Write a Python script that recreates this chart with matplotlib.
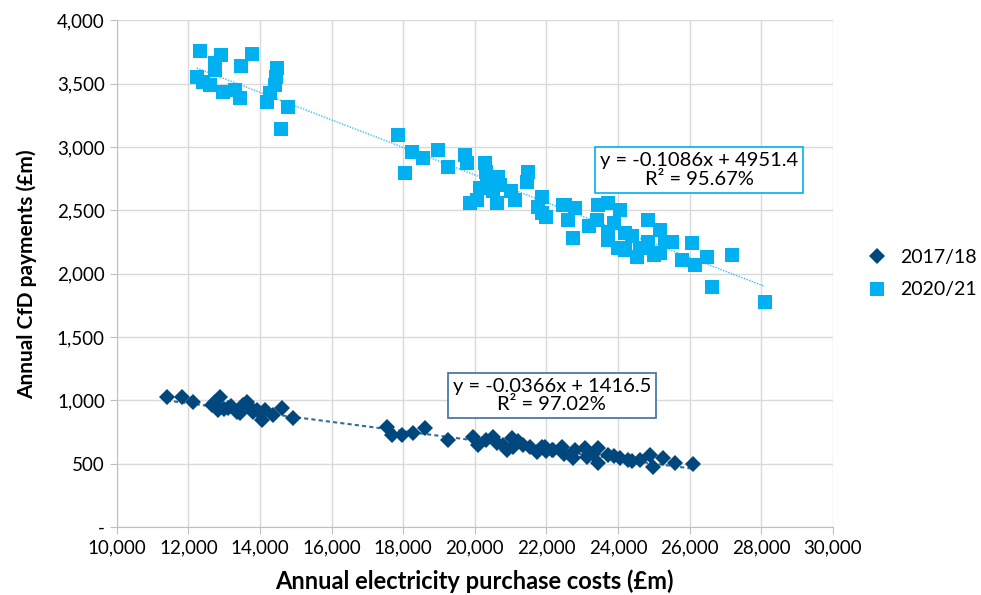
# Scatter of annual CfD payments vs electricity purchase costs, with trend lines

import numpy as np
import matplotlib.pyplot as plt
from matplotlib.ticker import FuncFormatter

plt.rcParams['font.family'] = ['Lato', 'DejaVu Sans']

# 2017/18 points (purchase costs, CfD payments), £m
x_1718 = [11396, 11815, 12123, 12653, 12877, 12821, 13100, 13351, 13519, 13715,
          13435, 13910, 14050, 14134, 14357, 14608, 14916,
          12750, 13200, 13650, 13000, 13800,
          17541, 17681, 17960, 18267, 18602, 19245, 19943, 20083, 20502, 20614,
          21033, 21061, 20893, 21535, 21731, 21954, 22178,
          20300, 20800, 21200, 22000, 22500, 23300, 23900, 24400,
          21340, 21871, 22150, 22429, 22792, 23072, 23435, 22737, 23128, 23435,
          23714, 24050, 24273, 24608, 24887, 24971, 25250, 25585, 26088]
y_1718 = [1026, 1026, 986, 963, 1026, 923, 939, 907, 963, 947,
          900, 923, 844, 923, 884, 939, 860,
          990, 960, 990, 930, 910,
          789, 726, 726, 742, 781, 686, 710, 647, 710, 663,
          702, 631, 608, 631, 592, 631, 608,
          690, 650, 680, 600, 580, 580, 560, 520,
          647, 631, 608, 631, 608, 623, 623, 544, 552, 505,
          568, 544, 529, 529, 568, 473, 544, 505, 500]

# 2020/21 points
x_2021 = [12318, 12905, 13771, 13463, 12737, 12737, 12234, 12402, 12597, 12960,
          13296, 13435, 14469, 14441, 14413, 14273, 14190, 14776, 14581,
          17849, 18239, 18044, 18547, 18966, 19245, 19720, 19776, 20279, 20335,
          20642, 20139, 19860, 20055, 20614, 21117, 21480, 21452, 21871, 21759,
          21871, 22457, 22597,
          20500, 20700, 20300, 21000, 22000,
          22513, 22792, 22737, 23435, 23714, 24050, 23407, 23714, 23714, 24189,
          24189, 24524, 24831, 25166, 24831, 25166, 25501, 25780, 26060, 26144,
          26479, 27177, 26619, 28098,
          23200, 23900, 24400, 24600, 24000, 25000, 25300]
y_2021 = [3756, 3724, 3732, 3637, 3661, 3606, 3550, 3511, 3487, 3432,
          3448, 3385, 3621, 3550, 3487, 3424, 3353, 3314, 3140,
          3093, 2959, 2793, 2911, 2975, 2840, 2935, 2872, 2872, 2754,
          2762, 2675, 2556, 2580, 2556, 2580, 2801, 2722, 2604, 2525,
          2477, 2541, 2422,
          2650, 2700, 2800, 2650, 2450,
          2541, 2517, 2280, 2541, 2556, 2501, 2422, 2327, 2264, 2320,
          2185, 2130, 2422, 2343, 2248, 2162, 2248, 2107, 2241, 2067,
          2130, 2146, 1894, 1775,
          2380, 2400, 2300, 2200, 2200, 2150, 2250]

# trend line coefficients (slope, intercept)
fit_1718 = (-0.0366, 1416.5)
fit_2021 = (-0.1086, 4951.4)

dark = '#00477D'
light = '#00B0F0'

fig = plt.figure(figsize=(9.81, 5.95), dpi=100)
ax = fig.add_axes([0.119, 0.114, 0.730, 0.852])

ax.plot(x_1718, y_1718, 'D', color=dark, ms=8.5, mew=0, label='2017/18', zorder=3)
ax.plot(x_2021, y_2021, 's', color=light, ms=10.5, mew=0, label='2020/21', zorder=3)

# trend lines across each series' range
xs = np.array([min(x_1718), max(x_1718)])
ax.plot(xs, fit_1718[0] * xs + fit_1718[1], color=dark, lw=1.5, ls=(0, (2, 1.5)),
        alpha=0.8, zorder=4)
xs = np.array([min(x_2021), max(x_2021)])
ax.plot(xs, fit_2021[0] * xs + fit_2021[1], color=light, lw=1, ls=(0, (1, 1)),
        alpha=0.8, zorder=4)

ax.text(26265, 2817, 'y = -0.1086x + 4951.4\nR² = 95.67%', ha='center', va='center',
        fontsize=14.5, linespacing=1.1, zorder=5,
        bbox=dict(boxstyle='square,pad=0.25', fc='white', ec=light, lw=1.2))
ax.text(22150, 1041, 'y = -0.0366x + 1416.5\nR² = 97.02%', ha='center', va='center',
        fontsize=14.5, linespacing=1.1, zorder=5,
        bbox=dict(boxstyle='square,pad=0.25', fc='white', ec='#3D6E9E', lw=1.2))

ax.set_xlim(10000, 30000)
ax.set_ylim(0, 4000)
ax.set_xticks(np.arange(10000, 30001, 2000))
ax.set_yticks(np.arange(0, 4001, 500))
fmt = FuncFormatter(lambda v, p: '-' if v == 0 else f'{v:,.0f}')
ax.xaxis.set_major_formatter(fmt)
ax.yaxis.set_major_formatter(fmt)
ax.tick_params(labelsize=13.5, colors='#BFBFBF', labelcolor='black', length=5)
ax.grid(color='#D9D9D9', lw=1)
ax.set_axisbelow(True)
for s in ['top', 'right']:
    ax.spines[s].set_visible(False)
for s in ['left', 'bottom']:
    ax.spines[s].set_color('#BFBFBF')

ax.set_xlabel('Annual electricity purchase costs (£m)', fontsize=17, fontweight='bold',
              labelpad=10)
ax.set_ylabel('Annual CfD payments (£m)', fontsize=15, fontweight='bold', labelpad=14)

ax.legend(loc='center left', bbox_to_anchor=(1.01, 0.5), frameon=False, fontsize=14,
          handletextpad=0.2, labelspacing=0.8)

fig.savefig('out.png', dpi=100)
